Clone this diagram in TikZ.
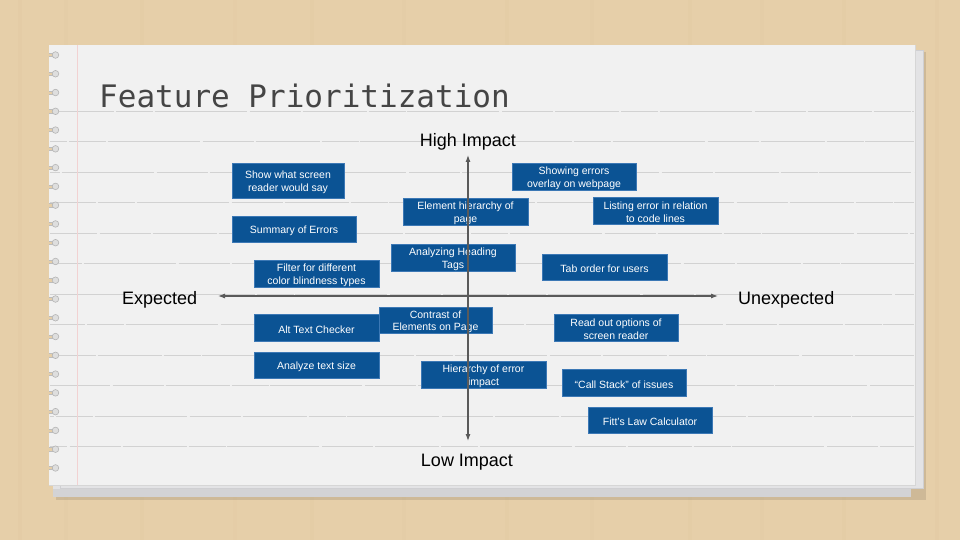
\documentclass[tikz,border=0pt]{standalone}
\usepackage{fontspec}
\setmainfont{Liberation Sans}
\newfontfamily\titlefont{DejaVu Sans Mono}
\usetikzlibrary{arrows.meta}

\definecolor{wood}{HTML}{E6CFA9}
\definecolor{woodgrain}{HTML}{D8BD92}
\definecolor{paper}{HTML}{F1F1F1}
\definecolor{undersheet}{HTML}{E3E3E5}
\definecolor{underedge}{HTML}{CFCFD2}
\definecolor{bottomsheet}{HTML}{D3D3D5}
\definecolor{bottomtop}{HTML}{E2E2E4}
\definecolor{pageedge}{HTML}{D6D6D6}
\definecolor{rule}{HTML}{D2D2D2}
\definecolor{margin}{HTML}{F2D2D2}
\definecolor{holefill}{HTML}{DEDEDE}
\definecolor{holeedge}{HTML}{B4B4B4}
\definecolor{tearedge}{HTML}{BDBDBD}
\definecolor{cardfill}{HTML}{0B5394}
\definecolor{cardedge}{HTML}{3C78B5}
\definecolor{axisgray}{HTML}{5A5A5A}
\definecolor{titlegray}{HTML}{454545}

\tikzset{
  card/.style={fill=cardfill, draw=cardedge, line width=0.7pt, inner sep=0pt,
    align=center, text=white, font=\fontsize{10.5}{12.7}\selectfont},
  cardtext/.style={yshift=-1.8pt},
  axis/.style={draw=axisgray, line width=1.1pt,
    {Latex[length=7pt,width=5pt]}-{Latex[length=7pt,width=5pt]}},
  axislabel/.style={inner sep=0pt, text=black, font=\fontsize{18}{20}\selectfont},
  ruleline/.style={draw=rule, line width=0.7pt,
    dash pattern=on 64pt off 2pt on 37pt off 1.5pt on 92pt off 3pt on 51pt off 2pt},
  hole/.style={fill=holefill, draw=holeedge, line width=0.6pt}
}

\begin{document}
\begin{tikzpicture}[x=1pt,y=-1pt]
  \useasboundingbox (0,0) rectangle (960,540);

  % wooden desk
  \fill[wood] (0,0) rectangle (960,540);
  \foreach \gx/\op in {18/.12,64/.08,140/.1,233/.07,310/.1,402/.08,505/.1,590/.08,688/.1,760/.08,842/.1,935/.12}
    \fill[woodgrain, opacity=\op] (\gx,0) rectangle ++(4,540);

  % sheets lying under the page
  \fill[black, opacity=.10] (56,52) rectangle (926,500);
  \fill[bottomsheet] (53,470) rectangle (911,497);
  \fill[bottomtop] (53,470) rectangle (911,489);
  \fill[undersheet] (60,50) rectangle (923,488);
  \draw[underedge, line width=.6pt] (60,50) rectangle (923,488);

  % the page
  \fill[paper] (49,45) rectangle (915,485);
  \draw[pageedge, line width=.5pt] (49,485) -- (915,485) -- (915,45);

  % ruled lines and margin
  \foreach \ry/\ph in {111/0,141.5/47,172/93,202.5/18,233/150,263.5/71,294/112,324.5/29,355/205,385.5/137,416/60,446.5/180}
    \draw[ruleline, dash phase=\ph pt] (50,\ry) -- (914,\ry);
  \draw[margin, line width=.6pt] (77,45) -- (77,485);

  % torn binder holes on the left edge
  \foreach \k in {0,...,22} {
    \pgfmathsetmacro{\hy}{55+18.77*\k}
    \fill[wood] (46,\hy-1.6) rectangle (53,\hy+1.6);
    \draw[tearedge, line width=.5pt] (49,\hy-1.6) -- (53,\hy-1.6) (49,\hy+1.6) -- (53,\hy+1.6);
    \path[hole] (55.5,\hy) circle (3.3pt);
  }

  % title
  \node[anchor=base west, inner sep=0pt, text=titlegray,
        font=\titlefont\fontsize{31}{34}\selectfont] (title) at (99,108) {Feature Prioritization};

  % feature cards: box first, then its text
  \foreach \nm/\cx/\cy/\w/\h/\txt in {
      say/288/180.5/112/35/{Show what screen\\reader would say},
      summary/294/229/124/26/{Summary of Errors},
      filter/316.5/273.5/125/27/{Filter for different\\color blindness types},
      element/465.5/211.5/125/27/{Element hierarchy of\\page},
      heading/453/257.5/124/27/{Analyzing Heading\\Tags},
      overlay/574/176.5/124/27/{Showing errors\\overlay on webpage},
      listing/655.5/210.5/125/27/{Listing error in relation\\to code lines},
      tab/604.5/267/125/26/{Tab order for users},
      contrast/435.5/320/113/26/{Contrast of\\Elements on Page},
      readout/616/327.5/124/27/{Read out options of\\screen reader},
      errimpact/483.5/374.5/125/27/{Hierarchy of error\\impact},
      callstack/624/382.5/124/27/{“Call Stack” of issues},
      fitts/650/420/124/26/{Fitt’s Law Calculator},
      alttext/316.5/327.5/125/27/{Alt Text Checker},
      textsize/316.5/365/125/26/{Analyze text size}} {
    \node[card, minimum width=\w pt, minimum height=\h pt] (\nm) at (\cx,\cy) {};
    \node[card, fill=none, draw=none, cardtext] (\nm-label) at (\nm.center) {\txt};
  }

  % axes
  \coordinate (top) at (468,155);
  \coordinate (bottom) at (468,441);
  \coordinate (left) at (218,296);
  \coordinate (right) at (718,296);
  \draw[axis] (bottom) -- (top);
  \draw[axis] (left) -- (right);

  % axis labels
  \node[axislabel, anchor=base] (high) at (468,147) {High Impact};
  \node[axislabel, anchor=base] (low) at (467,466) {Low Impact};
  \node[axislabel, anchor=base west] (expected) at (122,304) {Expected};
  \node[axislabel, anchor=base west] (unexpected) at (738,304) {Unexpected};
\end{tikzpicture}
\end{document}
